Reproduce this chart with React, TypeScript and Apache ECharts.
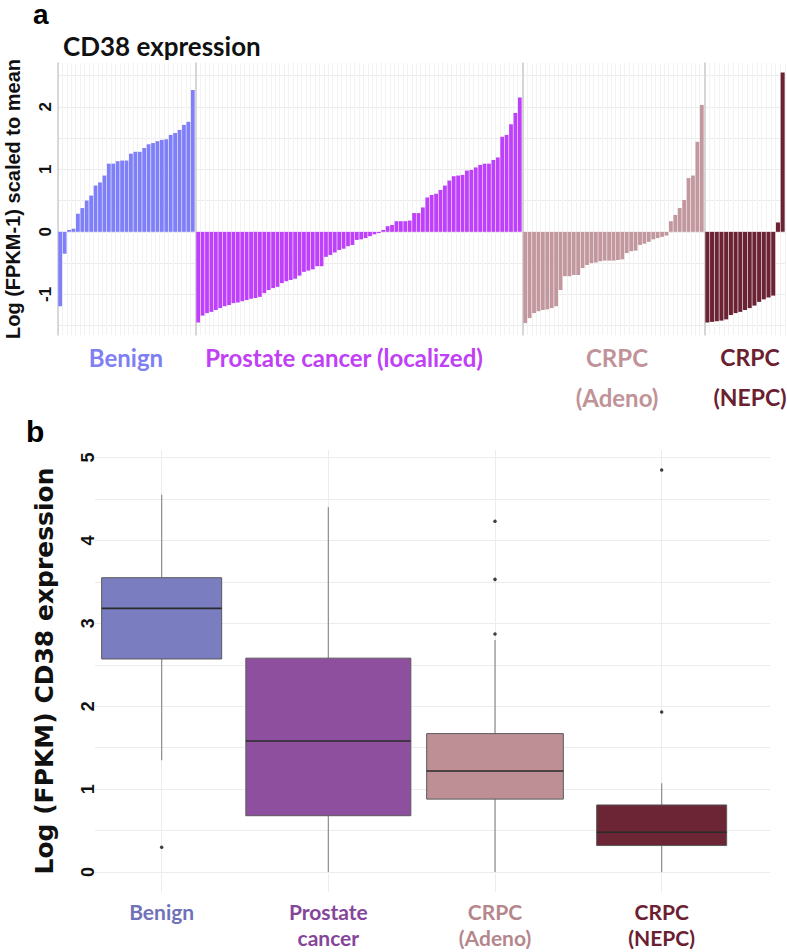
import React, { useEffect, useRef } from "react";
import * as echarts from "echarts";

// ---------- Panel a data (scaled log FPKM, sorted within group) ----------
const benignValues = [
  -1.19, -0.35, 0.03, 0.05, 0.29, 0.38, 0.5, 0.58, 0.74, 0.79, 0.9, 1.09, 1.09, 1.13, 1.14, 1.14,
  1.25, 1.28, 1.28, 1.34, 1.4, 1.42, 1.45, 1.47, 1.48, 1.55, 1.58, 1.63, 1.71, 1.76, 2.27,
];
const prostateValues = [
  -1.45, -1.34, -1.3, -1.28, -1.25, -1.22, -1.19, -1.17, -1.14, -1.13, -1.11, -1.09, -1.07, -1.06,
  -1.04, -0.98, -0.93, -0.9, -0.88, -0.82, -0.79, -0.77,
  -0.75, -0.7, -0.64, -0.62, -0.6, -0.55, -0.55, -0.4, -0.37, -0.33, -0.29, -0.27, -0.23, -0.21,
  -0.13, -0.12, -0.1, -0.07, -0.04, -0.02, 0.03, 0.09, 0.11, 0.17,
  0.17, 0.17, 0.18, 0.3, 0.3, 0.39, 0.55, 0.59, 0.61, 0.67, 0.74, 0.82, 0.89, 0.9, 0.91, 0.98,
  0.99, 1.03, 1.07, 1.09, 1.09, 1.15, 1.19, 1.52, 1.55, 1.72, 1.9, 2.15,
];
const adenoValues = [
  -1.46, -1.38, -1.3, -1.27, -1.25, -1.24, -1.22, -1.19, -0.93, -0.71, -0.71, -0.69, -0.69, -0.58,
  -0.53, -0.5, -0.49, -0.47, -0.46, -0.46, -0.46, -0.45, -0.44, -0.34, -0.31, -0.3, -0.21, -0.19,
  -0.16, -0.12, -0.1, -0.08, -0.06, 0.17, 0.27, 0.38, 0.51, 0.86, 0.9, 1.44, 2.03,
];
const nepcValues = [
  -1.45, -1.44, -1.43, -1.42, -1.4, -1.33, -1.3, -1.28, -1.25, -1.22, -1.18, -1.12, -1.08, -1.05,
  -1.02, 0.15, 2.55,
];
const facetValues = [benignValues, prostateValues, adenoValues, nepcValues];
const facetLabels = ["Benign", "Prostate cancer (localized)", "CRPC\n(Adeno)", "CRPC\n(NEPC)"];
const panelAYTicks = [-1, 0, 1, 2];
const panelAGridValues = [-1.5, -1, -0.5, 0, 0.5, 1, 1.5, 2, 2.5];

// ---------- Panel b data (box statistics: lower whisker, Q1, median, Q3, upper whisker) ----------
const boxCategories = ["Benign", "Prostate\ncancer", "CRPC\n(Adeno)", "CRPC\n(NEPC)"];
const boxLower = [1.35, 0.0, 0.0, 0.0];
const boxQ1 = [2.57, 0.68, 0.88, 0.32];
const boxMedian = [3.18, 1.58, 1.22, 0.48];
const boxQ3 = [3.55, 2.58, 1.67, 0.81];
const boxUpper = [4.55, 4.4, 2.8, 1.07];
const outlierPoints = [
  [0, 0.3],
  [2, 4.23],
  [2, 3.53],
  [2, 2.87],
  [3, 4.85],
  [3, 1.93],
];
const panelBYTicks = [0, 1, 2, 3, 4, 5];
const panelBGridValues = [0, 0.5, 1, 1.5, 2, 2.5, 3, 3.5, 4, 4.5, 5];
const boxPositions = [0, 1, 2, 3];

// ---------- styles ----------
const barColors = ["#7f7ffa", "#bf40fb", "#c2979d", "#6b2233"];
const facetLabelColors = ["#7f7ff5", "#bf40f5", "#c09399", "#6a2030"];
const boxFills = ["#7a7ec0", "#8e509e", "#be9096", "#6b2535"];
const boxLabelColors = ["#6f72b8", "#85469a", "#b5878d", "#6a2030"];
const boxWidths = [0.72, 0.99, 0.82, 0.78];
const facetGrids = [
  { left: 58, width: 137 },
  { left: 196, width: 326 },
  { left: 523, width: 181 },
  { left: 705, width: 80 },
];
const facetLabelCenters = [126, 344, 617, 750];
const facetLabelSizes = [24, 24, 24, 23];
const GRID_COLOR = "#ececec";
const AXIS_FONT = "'Liberation Sans', Arial, sans-serif";
const WIDE_FONT = "'DejaVu Sans', Verdana, sans-serif";
const LABEL_FONT = "Lato, 'Open Sans', sans-serif";

export default function App() {
  const ref = useRef<HTMLDivElement>(null);

  useEffect(() => {
    if (!ref.current) return;
    const chart = echarts.init(ref.current, undefined, { renderer: "svg" });

    const grids: any[] = facetGrids.map((g) => ({
      left: g.left,
      width: g.width,
      top: 63,
      height: 272,
      containLabel: false,
    }));
    grids.push({ left: 95, width: 675, top: 450, height: 442 });

    const xAxes: any[] = facetValues.map((vals, i) => ({
      type: "category",
      gridIndex: i,
      data: vals.map((_, k) => `${i}-${k + 1}`),
      axisLine: { show: false },
      axisTick: { show: false },
      axisLabel: { show: false },
      splitLine: { show: true, interval: 0, lineStyle: { color: "#f2f2f2", width: 1 } },
    }));
    xAxes.push({
      type: "value",
      gridIndex: 4,
      min: -0.4,
      max: 3.65,
      axisLine: { show: false },
      axisTick: { show: false, customValues: boxPositions },
      axisLabel: {
        customValues: boxPositions,
        margin: 6,
        formatter: (v: number) => {
          const i = Math.round(v);
          const lbl = boxCategories[i] || "";
          return lbl
            .split("\n")
            .map((l) => `{c${i}|${l}}`)
            .join("\n");
        },
        rich: Object.fromEntries(
          boxLabelColors.map((c, i) => [
            `c${i}`,
            { color: c, fontSize: 21, fontFamily: LABEL_FONT, fontWeight: "bold", lineHeight: 26 },
          ])
        ),
      },
      splitLine: { show: true, lineStyle: { color: GRID_COLOR, width: 1 } },
    });

    const yAxes: any[] = facetValues.map((_, i) => ({
      type: "value",
      gridIndex: i,
      min: -1.65,
      max: 2.7,
      axisLine: { show: true, lineStyle: { color: "#cccccc", width: 1.5 } },
      axisTick: { show: false, customValues: panelAGridValues },
      axisLabel: {
        show: i === 0,
        customValues: panelAYTicks,
        rotate: 90,
        verticalAlign: "middle",
        margin: 13,
        color: "#111",
        fontSize: 17,
        fontWeight: "bold",
        fontFamily: AXIS_FONT,
      },
      splitLine: { show: true, lineStyle: { color: GRID_COLOR, width: 1 } },
      name: i === 0 ? "Log (FPKM-1) scaled to mean" : "",
      nameLocation: "middle",
      nameRotate: 90,
      nameGap: 35,
      nameTextStyle: { color: "#111", fontSize: 20, fontWeight: "bold", fontFamily: AXIS_FONT },
    }));
    yAxes.push({
      type: "value",
      gridIndex: 4,
      min: -0.24,
      max: 5.09,
      axisLine: { show: false },
      axisTick: { show: false, customValues: panelBGridValues },
      axisLabel: {
        customValues: panelBYTicks,
        rotate: 90,
        verticalAlign: "middle",
        margin: 7,
        color: "#111",
        fontSize: 18,
        fontWeight: "bold",
        fontFamily: AXIS_FONT,
      },
      splitLine: { show: true, lineStyle: { color: GRID_COLOR, width: 1 } },
      name: "Log (FPKM) CD38 expression",
      nameLocation: "middle",
      nameRotate: 90,
      nameGap: 38,
      nameTextStyle: { color: "#111", fontSize: 25, fontWeight: "bold", fontFamily: WIDE_FONT },
    });

    const series: any[] = facetValues.map((vals, i) => ({
      type: "bar",
      xAxisIndex: i,
      yAxisIndex: i,
      data: vals,
      barCategoryGap: "14%",
      itemStyle: { color: barColors[i] },
      silent: true,
    }));

    series.push({
      type: "custom",
      xAxisIndex: 4,
      yAxisIndex: 4,
      data: boxPositions.map((p, i) => [p, boxLower[i], boxQ1[i], boxMedian[i], boxQ3[i], boxUpper[i]]),
      encode: { x: 0, y: [1, 2, 3, 4, 5] },
      renderItem: (params: any, api: any) => {
        const idx = params.dataIndex;
        const x = api.value(0);
        const lo = api.coord([x, api.value(1)]);
        const q1 = api.coord([x, api.value(2)]);
        const med = api.coord([x, api.value(3)]);
        const q3 = api.coord([x, api.value(4)]);
        const hi = api.coord([x, api.value(5)]);
        const half = api.size([boxWidths[idx], 0])[0] / 2;
        const cx = q1[0];
        const whisker = { stroke: "#8c8c8c", lineWidth: 1.2 };
        return {
          type: "group",
          children: [
            { type: "line", shape: { x1: cx, y1: q3[1], x2: cx, y2: hi[1] }, style: whisker },
            { type: "line", shape: { x1: cx, y1: q1[1], x2: cx, y2: lo[1] }, style: whisker },
            {
              type: "rect",
              shape: { x: cx - half, y: q3[1], width: half * 2, height: q1[1] - q3[1] },
              style: { fill: boxFills[idx], stroke: "#5a5a5a", lineWidth: 1 },
            },
            {
              type: "line",
              shape: { x1: cx - half, y1: med[1], x2: cx + half, y2: med[1] },
              style: { stroke: "#2a2a2a", lineWidth: 1.6 },
            },
          ],
        };
      },
      silent: true,
      z: 3,
    });

    series.push({
      type: "scatter",
      xAxisIndex: 4,
      yAxisIndex: 4,
      data: outlierPoints,
      symbolSize: 3.5,
      itemStyle: { color: "#111" },
      silent: true,
      z: 4,
    });

    const graphic: any[] = [
      {
        type: "text",
        left: 33,
        top: 0,
        style: { text: "a", fontSize: 28, fontWeight: "bold", fontFamily: AXIS_FONT, fill: "#000" },
      },
      {
        type: "text",
        left: 26,
        top: 416,
        style: { text: "b", fontSize: 30, fontWeight: "bold", fontFamily: AXIS_FONT, fill: "#000" },
      },
      {
        type: "text",
        left: 63,
        top: 33,
        style: { text: "CD38 expression", fontSize: 26, fontWeight: "bold", fontFamily: LABEL_FONT, fill: "#111" },
      },
    ];
    facetLabels.forEach((lbl, i) => {
      graphic.push({
        type: "text",
        x: facetLabelCenters[i],
        y: 337,
        style: {
          text: lbl,
          align: "center",
          verticalAlign: "top",
          fontSize: facetLabelSizes[i],
          lineHeight: 40,
          fontWeight: "bold",
          fontFamily: LABEL_FONT,
          fill: facetLabelColors[i],
        },
      });
    });

    chart.setOption({
      animation: false,
      backgroundColor: "#ffffff",
      grid: grids,
      xAxis: xAxes,
      yAxis: yAxes,
      series,
      graphic,
    });

    return () => chart.dispose();
  }, []);

  return (
    <div
      ref={ref}
      style={{ position: "absolute", left: 0, top: 0, width: 787, height: 952 }}
    />
  );
}
